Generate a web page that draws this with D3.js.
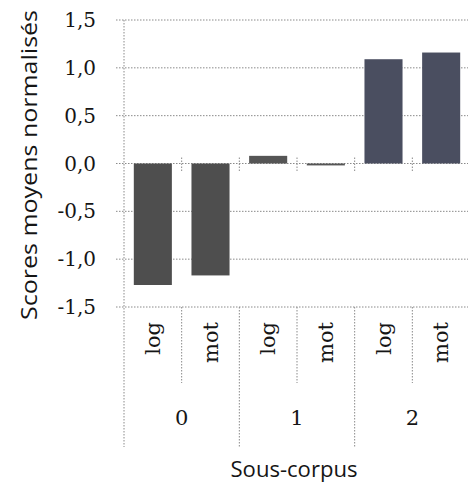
<!DOCTYPE html>
<html>
<head>
<meta charset="utf-8">
<script src="https://cdn.jsdelivr.net/npm/d3@7"></script>
<style>
  html, body { margin: 0; padding: 0; background: #fff; }
  svg { display: block; }
</style>
</head>
<body>
<svg id="chart" width="468" height="485"></svg>
<script>
// Sous-corpus groups and the two measures within each group
const groups = ["0", "1", "2"];
const measures = ["log", "mot"];
// Normalised mean scores, one per (group, measure), in order
const scores = [-1.27, -1.17, 0.08, -0.02, 1.09, 1.16];
const yTicks = [-1.5, -1.0, -0.5, 0.0, 0.5, 1.0, 1.5];
const yTickLabels = ["-1,5", "-1,0", "-0,5", "0,0", "0,5", "1,0", "1,5"];
const yTitle = "Scores moyens normalisés";
const xTitle = "Sous-corpus";

const rows = [];
groups.forEach((g, gi) => measures.forEach((m, mi) => {
  rows.push({ key: g + "-" + m, group: g, measure: m, value: scores[gi * measures.length + mi] });
}));

const svg = d3.select("#chart");
const plotLeft = 124, plotRight = 470, plotTop = 20, plotBottom = 307;

const x = d3.scaleBand().domain(rows.map(d => d.key)).range([plotLeft, plotRight])
  .paddingInner(0.34).paddingOuter(0.17);
const y = d3.scaleLinear().domain([-1.5, 1.5]).range([plotBottom, plotTop]);
const step = x.step();
const catLeft = k => x(k) - x.paddingOuter() * step;

const serif = "'DejaVu Serif', serif";
const sans = "'Open Sans', sans-serif";
const textColor = "#151515";
const gridColor = "#8a8a8a";
const dash = "1.5,1.5";

// horizontal gridlines with small outer ticks
svg.append("g").selectAll("line").data(yTicks).join("line")
  .attr("x1", plotLeft - 8).attr("x2", 468)
  .attr("y1", d => y(d)).attr("y2", d => y(d))
  .attr("stroke", gridColor).attr("stroke-width", 1).attr("stroke-dasharray", dash);

// vertical axis line running down through the category label area
svg.append("line")
  .attr("x1", plotLeft).attr("x2", plotLeft).attr("y1", plotTop).attr("y2", 447)
  .attr("stroke", gridColor).attr("stroke-dasharray", dash);

// bars
const barColor = d3.scaleOrdinal().domain(groups).range(["#4e4e4e", "#555555", "#4a4e60"]);
svg.append("g").selectAll("rect").data(rows).join("rect")
  .attr("x", d => x(d.key))
  .attr("width", x.bandwidth())
  .attr("y", d => y(Math.max(0, d.value)))
  .attr("height", d => Math.max(1.5, Math.abs(y(d.value) - y(0))))
  .attr("fill", d => barColor(d.group));

// category tick marks crossing the zero line
svg.append("g").selectAll("line").data(rows.slice(1)).join("line")
  .attr("x1", d => catLeft(d.key)).attr("x2", d => catLeft(d.key))
  .attr("y1", y(0) - 6).attr("y2", y(0) + 9)
  .attr("stroke", gridColor).attr("stroke-dasharray", dash);

// separators in the category label area: short between measures, long between groups
svg.append("g").selectAll("line").data(rows.slice(1)).join("line")
  .attr("x1", d => catLeft(d.key)).attr("x2", d => catLeft(d.key))
  .attr("y1", plotBottom)
  .attr("y2", d => d.measure === measures[0] ? 447 : 383)
  .attr("stroke", gridColor).attr("stroke-dasharray", dash);

// y tick labels
svg.append("g").selectAll("text").data(yTicks).join("text")
  .attr("x", 96).attr("y", d => y(d) + 7)
  .attr("text-anchor", "end")
  .attr("font-family", serif).attr("font-size", 20)
  .attr("fill", textColor)
  .text((d, i) => yTickLabels[i]);

// measure labels, rotated
svg.append("g").selectAll("text").data(rows).join("text")
  .attr("transform", d => `translate(${x(d.key) + x.bandwidth() / 2 + 7},322) rotate(-90)`)
  .attr("text-anchor", "end")
  .attr("font-family", serif).attr("font-size", 21)
  .attr("fill", textColor)
  .text(d => d.measure);

// group labels
svg.append("g").selectAll("text").data(groups).join("text")
  .attr("x", g => (catLeft(g + "-" + measures[0]) + catLeft(g + "-" + measures[1]) + step) / 2)
  .attr("y", 425)
  .attr("text-anchor", "middle")
  .attr("font-family", serif).attr("font-size", 21)
  .attr("fill", textColor)
  .text(g => g);

// axis titles
svg.append("text")
  .attr("transform", "translate(37,165) rotate(-90)")
  .attr("text-anchor", "middle")
  .attr("font-family", sans).attr("font-size", 21)
  .attr("fill", textColor)
  .attr("textLength", 310).attr("lengthAdjust", "spacingAndGlyphs")
  .text(yTitle);

svg.append("text")
  .attr("x", 294).attr("y", 477)
  .attr("text-anchor", "middle")
  .attr("font-family", sans).attr("font-size", 22)
  .attr("fill", textColor)
  .attr("textLength", 127).attr("lengthAdjust", "spacingAndGlyphs")
  .text(xTitle);
</script>
</body>
</html>
